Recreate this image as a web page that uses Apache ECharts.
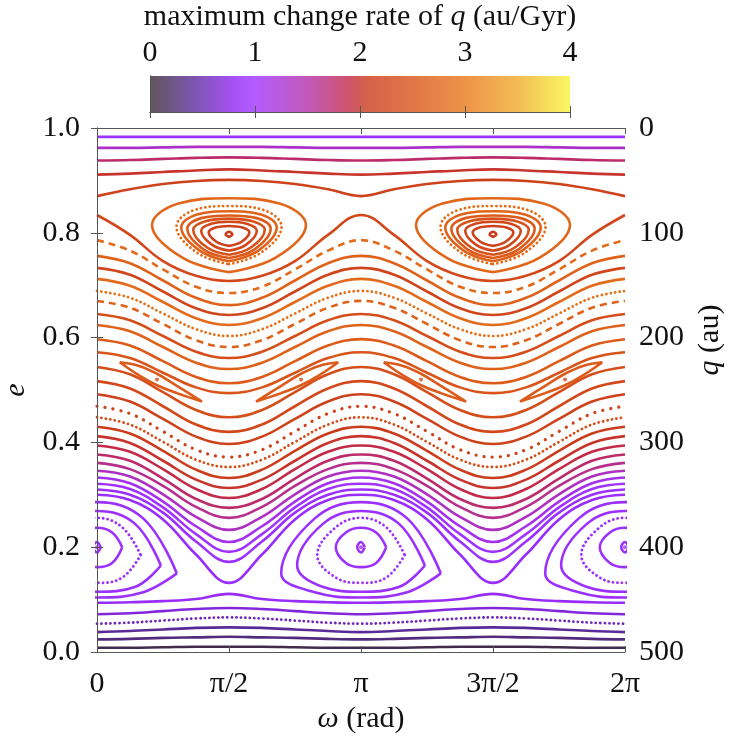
<!DOCTYPE html>
<html>
<head>
<meta charset="utf-8">
<title>maximum change rate of q</title>
<script src="https://cdn.jsdelivr.net/npm/echarts@6/dist/echarts.min.js"></script>
</head>
<body style="margin:0">
<div id="container" style="width:750px;height:750px"></div>
<script>
// ---- tick labels ----
var omegaTickLabels = ['0', 'π/2', 'π', '3π/2', '2π'];
var rateTicks = [0, 1, 2, 3, 4];

// colour bar stops: [rate, colour]
var rateStops = [
    [0.0, '#3a2c34'], [0.4, '#5a2b96'], [0.8, '#8f26f2'], [1.0, '#a033ff'],
    [1.5, '#b22fa6'], [1.9, '#c22a48'], [2.05, '#c9391c'], [2.5, '#d9541a'],
    [3.0, '#e8781a'], [3.5, '#f0aa2a'], [4.0, '#f8f63a']
];

var omegaSamples = [0, 0.3927, 0.7854, 1.1781, 1.5708, 1.9635, 2.3562, 2.7489, 3.1416,
    3.5343, 3.9270, 4.3197, 4.7124, 5.1051, 5.4978, 5.8905, 6.2832];

// open (circulating) curves, e at each omegaSample, from top to bottom
var openCurves = [
    [.983,.983,.983,.983,.983,.983,.983,.983,.983,.983,.983,.983,.983,.983,.983,.983,.983],
    [.962,.962,.963,.964,.964,.964,.963,.962,.962,.962,.963,.964,.964,.964,.963,.962,.962],
    [.938,.939,.941,.943,.944,.943,.941,.939,.938,.939,.941,.943,.944,.943,.941,.939,.938],
    [.911,.913,.916,.919,.921,.919,.916,.913,.911,.913,.916,.919,.921,.919,.916,.913,.911],
    [.870,.883,.893,.899,.901,.899,.893,.883,.870,.883,.893,.899,.901,.899,.893,.883,.870],
    [.834,.796,.746,.718,.708,.718,.746,.796,.834,.796,.746,.718,.708,.718,.746,.796,.834],
    [.786,.766,.730,.697,.685,.697,.730,.766,.786,.766,.730,.697,.685,.697,.730,.766,.786],
    [.756,.742,.709,.676,.662,.676,.709,.742,.756,.742,.709,.676,.662,.676,.709,.742,.756],
    [.733,.720,.688,.656,.643,.656,.688,.720,.733,.720,.688,.656,.643,.656,.688,.720,.733],
    [.712,.699,.668,.637,.624,.637,.668,.699,.712,.699,.668,.637,.624,.637,.668,.699,.712],
    [.689,.676,.646,.616,.603,.616,.646,.676,.689,.676,.646,.616,.603,.616,.646,.676,.689],
    [.670,.657,.626,.595,.582,.595,.626,.657,.670,.657,.626,.595,.582,.595,.626,.657,.670],
    [.645,.633,.603,.573,.561,.573,.603,.633,.645,.633,.603,.573,.561,.573,.603,.633,.645],
    [.624,.612,.582,.552,.540,.552,.582,.612,.624,.612,.582,.552,.540,.552,.582,.612,.624],
    [.597,.585,.555,.525,.513,.525,.555,.585,.597,.585,.555,.525,.513,.525,.555,.585,.597],
    [.572,.561,.533,.505,.494,.505,.533,.561,.572,.561,.533,.505,.494,.505,.533,.561,.572],
    [.544,.530,.496,.462,.448,.462,.496,.530,.544,.530,.496,.462,.448,.462,.496,.530,.544],
    [.517,.503,.469,.434,.420,.434,.469,.503,.517,.503,.469,.434,.420,.434,.469,.503,.517],
    [.492,.478,.445,.411,.397,.411,.445,.478,.492,.478,.445,.411,.397,.411,.445,.478,.492],
    [.469,.455,.421,.386,.372,.386,.421,.455,.469,.455,.421,.386,.372,.386,.421,.455,.469],
    [.448,.434,.401,.367,.353,.367,.401,.434,.448,.434,.401,.367,.353,.367,.401,.434,.448],
    [.430,.417,.384,.348,.332,.348,.384,.417,.430,.417,.384,.348,.332,.348,.384,.417,.430],
    [.412,.399,.365,.329,.313,.329,.365,.399,.412,.399,.365,.329,.313,.329,.365,.399,.412],
    [.394,.382,.349,.311,.294,.311,.349,.382,.394,.382,.349,.311,.294,.311,.349,.382,.394],
    [.377,.365,.331,.292,.275,.292,.331,.365,.377,.365,.331,.292,.275,.292,.331,.365,.377],
    [.361,.349,.317,.277,.256,.277,.317,.349,.361,.349,.317,.277,.256,.277,.317,.349,.361],
    [.346,.335,.301,.258,.233,.258,.301,.335,.346,.335,.301,.258,.233,.258,.301,.335,.346],
    [.333,.322,.287,.240,.210,.240,.287,.322,.333,.322,.287,.240,.210,.240,.287,.322,.333],
    [.321,.311,.276,.225,.191,.225,.276,.311,.321,.311,.276,.225,.191,.225,.276,.311,.321],
    [.310,.300,.266,.211,.172,.211,.266,.300,.310,.300,.266,.211,.172,.211,.266,.300,.310],
    [.300,.290,.253,.186,.132,.186,.253,.290,.300,.290,.253,.186,.132,.186,.253,.290,.300],
    [.094,.095,.097,.101,.111,.101,.097,.095,.094,.095,.097,.101,.111,.101,.097,.095,.094],
    [.072,.074,.078,.082,.084,.082,.078,.074,.072,.074,.078,.082,.084,.082,.078,.074,.072],
    [.054,.056,.060,.064,.066,.064,.060,.056,.054,.056,.060,.064,.066,.064,.060,.056,.054],
    [.038,.040,.043,.046,.047,.046,.043,.040,.038,.040,.043,.046,.047,.046,.043,.040,.038],
    [.024,.025,.027,.028,.029,.028,.027,.025,.024,.025,.027,.028,.029,.028,.027,.025,.024],
    [.008,.008,.009,.010,.010,.010,.009,.008,.008,.008,.009,.010,.010,.010,.009,.008,.008]
];
var openRates = [0.95, 1.3, 1.75, 2.0, 2.2,
    2.3, 2.8, 2.7, 2.25, 2.8, 2.9, 2.7, 2.4, 2.7, 2.6, 2.5,
    2.4, 2.3, 2.2, 2.2, 2.4, 2.1, 2.0, 1.9, 1.75, 1.6, 1.35, 1.1, 1.0, 0.95, 0.92,
    0.9, 0.7, 0.55, 0.4, 0.3, 0.1];
var openStyles = ['s', 's', 's', 's', 's',
    's', 'dash', 's', 's', 's', 'dot', 'dash', 's', 's', 's', 's',
    's', 's', 's', 'dotw', 'dot', 's', 's', 's', 's', 's', 's', 's', 's', 's', 's',
    's', 's', 'dot', 's', 's', 's'];

// islands around omega = pi/2, 3pi/2 (points as [d omega, e])
var upperCentres = [1.5708, 4.7124];
var upperLoops = [
    [[0,.725],[.55,.752],[.916,.815],[.6,.856],[0,.866],[-.6,.856],[-.916,.815],[-.55,.752],[0,.725]],
    [[0,.740],[.38,.762],[.625,.812],[.42,.843],[0,.851],[-.42,.843],[-.625,.812],[-.38,.762],[0,.740]],
    [[0,.746],[.34,.765],[.568,.810],[.38,.835],[0,.841],[-.38,.835],[-.568,.810],[-.34,.765],[0,.746]],
    [[0,.752],[.30,.768],[.496,.808],[.33,.828],[0,.833],[-.33,.828],[-.496,.808],[-.30,.768],[0,.752]],
    [[0,.758],[.26,.772],[.426,.806],[.28,.822],[0,.827],[-.28,.822],[-.426,.806],[-.26,.772],[0,.758]],
    [[0,.766],[.20,.777],[.331,.804],[.22,.817],[0,.821],[-.22,.817],[-.331,.804],[-.20,.777],[0,.766]],
    [[0,.775],[.15,.783],[.242,.801],[.16,.810],[0,.813],[-.16,.810],[-.242,.801],[-.15,.783],[0,.775]],
    [[0,.792],[.04,.797],[0,.802],[-.04,.797],[0,.792]]
];
var upperRates = [2.75, 2.85, 2.7, 2.6, 2.45, 2.3, 2.2, 2.1];
var upperStyles = ['s', 'dot', 's', 's', 's', 's', 's', 's'];

// islands around omega = 0, pi, 2pi
var lowerCentres = [0, 3.1416, 6.2832];
var lowerLoops = [
    [[.95,.150],[.55,.114],[0,.104],[-.55,.114],[-.95,.150],[-.55,.255],[0,.286],[.55,.255],[.95,.150]],
    [[.76,.165],[.45,.124],[0,.115],[-.45,.124],[-.76,.165],[-.45,.245],[0,.269],[.45,.245],[.76,.165]],
    [[.52,.185],[.30,.142],[0,.132],[-.30,.142],[-.52,.185],[-.30,.238],[0,.256],[.30,.238],[.52,.185]],
    [[.30,.200],[.18,.170],[0,.162],[-.18,.170],[-.30,.200],[-.18,.228],[0,.237],[.18,.228],[.30,.200]],
    [[.045,.200],[0,.190],[-.045,.200],[0,.210],[.045,.200]]
];
var lowerRates = [0.95, 0.95, 0.95, 0.95, 0.95];
var lowerStyles = ['s', 's', 'dot', 's', 's'];

// thin islands of the middle chain, repeated every pi
var chainShifts = [0, 3.1416];
var chainLoops = [
    [[0.27,.553],[0.50,.546],[0.714,.531],[0.95,.508],[1.25,.478],[0.95,.494],[0.714,.509],[0.50,.528],[0.27,.553]],
    [[2.872,.553],[2.642,.546],[2.428,.531],[2.192,.508],[1.892,.478],[2.192,.494],[2.428,.509],[2.642,.528],[2.872,.553]]
];
var chainRates = [2.6, 2.6];

// island centre points
var centrePoints = [[0.714,.520],[2.428,.520],[3.856,.520],[5.570,.520],[0,.2],[3.1416,.2],[6.2832,.2]];
var centreRates = [2.4, 2.4, 2.4, 2.4, 0.95, 0.95, 0.95];

var font = "'Liberation Serif', 'DejaVu Serif', serif";
var ink = '#111';
var frame = '#555';

function hexToRgb(h) {
    return [parseInt(h.substr(1, 2), 16), parseInt(h.substr(3, 2), 16), parseInt(h.substr(5, 2), 16)];
}
function rateColour(r) {
    for (var i = 1; i < rateStops.length; i++) {
        if (r <= rateStops[i][0]) {
            var a = rateStops[i - 1], b = rateStops[i];
            var t = (r - a[0]) / (b[0] - a[0]);
            var ca = hexToRgb(a[1]), cb = hexToRgb(b[1]);
            return 'rgb(' + [0, 1, 2].map(function (k) { return Math.round(ca[k] + (cb[k] - ca[k]) * t); }).join(',') + ')';
        }
    }
    return rateStops[rateStops.length - 1][1];
}
function styleFor(rate, kind) {
    var ls = { color: rateColour(rate), width: 2.6 };
    if (kind === 'dash') ls.type = [7, 5];
    if (kind === 'dot') { ls.type = [0.1, 4.4]; ls.cap = 'round'; ls.width = 2.8; }
    if (kind === 'dotw') { ls.type = [0.1, 8]; ls.cap = 'round'; ls.width = 3.2; }
    return ls;
}
function curve(data, ls) {
    return { type: 'line', data: data, smooth: 0.4, showSymbol: false, silent: true, lineStyle: ls, z: 2 };
}

var series = [];
openCurves.forEach(function (row, i) {
    series.push(curve(row.map(function (e, k) { return [omegaSamples[k], e]; }), styleFor(openRates[i], openStyles[i])));
});
upperCentres.forEach(function (c) {
    upperLoops.forEach(function (pts, i) {
        series.push(curve(pts.map(function (p) { return [c + p[0], p[1]]; }), styleFor(upperRates[i], upperStyles[i])));
    });
});
lowerCentres.forEach(function (c) {
    lowerLoops.forEach(function (pts, i) {
        series.push(curve(pts.map(function (p) { return [c + p[0], p[1]]; }), styleFor(lowerRates[i], lowerStyles[i])));
    });
});
chainShifts.forEach(function (s) {
    chainLoops.forEach(function (pts, i) {
        series.push(curve(pts.map(function (p) { return [s + p[0], p[1]]; }), styleFor(chainRates[i], 's')));
    });
});
series.push({
    type: 'scatter', symbolSize: 4, silent: true, z: 3,
    data: centrePoints.map(function (p, i) { return { value: p, itemStyle: { color: rateColour(centreRates[i]) } }; })
});

// colour bar drawn as one rectangle spanning rate 0..4
var barStops = rateStops.map(function (s) { return { offset: s[0] / 4, color: s[1] }; });
series.push({
    type: 'custom', xAxisIndex: 2, yAxisIndex: 2, silent: true, z: 1,
    data: [[rateTicks[0], rateTicks[rateTicks.length - 1]]],
    renderItem: function (params, api) {
        var p0 = api.coord([api.value(0), 0]);
        var p1 = api.coord([api.value(1), 1]);
        return {
            type: 'rect',
            shape: { x: p0[0], y: p1[1], width: p1[0] - p0[0], height: p0[1] - p1[1] },
            style: { fill: new echarts.graphic.LinearGradient(0, 0, 1, 0, barStops), opacity: 0.8 }
        };
    }
});

var lineSt = { lineStyle: { color: frame, width: 1 } };
var labelSt = { fontSize: 30, fontFamily: font, color: ink };
function nameStyle(extra) {
    return Object.assign({
        fontSize: 30, fontFamily: font, color: ink,
        rich: { i: { fontStyle: 'italic', fontSize: 30, fontFamily: font, color: ink } }
    }, extra || {});
}

var option = {
    animation: false,
    grid: [
        { left: 97, top: 128, width: 528, height: 524, outerBoundsMode: 'none' },
        { left: 150, top: 76, width: 420, height: 36, outerBoundsMode: 'none' }
    ],
    xAxis: [
        {
            gridIndex: 0, type: 'value', position: 'bottom', min: 0, max: 2 * Math.PI, interval: Math.PI / 2, z: 5,
            axisLine: lineSt, axisTick: { inside: true, length: 6, lineStyle: { color: frame } }, splitLine: { show: false },
            axisLabel: Object.assign({ margin: 17, formatter: function (v) { return omegaTickLabels[Math.round(v / (Math.PI / 2))]; } }, labelSt),
            name: '{i|ω} (rad)', nameLocation: 'middle', nameGap: 52, nameTextStyle: nameStyle()
        },
        {
            gridIndex: 0, type: 'value', position: 'top', min: 0, max: 2 * Math.PI, interval: Math.PI / 2, z: 5,
            axisLine: lineSt, axisTick: { inside: true, length: 6, lineStyle: { color: frame } }, splitLine: { show: false },
            axisLabel: { show: false }
        },
        {
            gridIndex: 1, type: 'value', position: 'top', min: 0, max: 4, interval: 1, z: 5,
            axisLine: lineSt, axisTick: { inside: true, length: 6, lineStyle: { color: frame } }, splitLine: { show: false },
            axisLabel: Object.assign({ margin: 8 }, labelSt),
            name: 'maximum change rate of {i|q} (au/Gyr)', nameLocation: 'middle', nameGap: 44, nameTextStyle: nameStyle()
        },
        {
            gridIndex: 1, type: 'value', position: 'bottom', min: 0, max: 4, interval: 1, z: 5,
            axisLine: lineSt, axisTick: { inside: true, length: 6, lineStyle: { color: frame } }, splitLine: { show: false },
            axisLabel: { show: false }
        }
    ],
    yAxis: [
        {
            gridIndex: 0, type: 'value', position: 'left', min: 0, max: 1, interval: 0.2, z: 5,
            axisLine: lineSt, axisTick: { inside: true, length: 6, lineStyle: { color: frame } }, splitLine: { show: false },
            axisLabel: Object.assign({ margin: 17, formatter: function (v) { return v.toFixed(1); } }, labelSt),
            name: '{i|e}', nameLocation: 'middle', nameGap: 54, nameTextStyle: nameStyle()
        },
        {
            gridIndex: 0, type: 'value', position: 'right', min: 0, max: 500, interval: 100, inverse: true, z: 5,
            axisLine: lineSt, axisTick: { inside: true, length: 6, lineStyle: { color: frame } }, splitLine: { show: false },
            axisLabel: Object.assign({ margin: 14 }, labelSt),
            name: '{i|q} (au)', nameLocation: 'middle', nameRotate: 90, nameGap: 66,
            nameTextStyle: nameStyle({ padding: [0, 0, 0, 100] })
        },
        {
            gridIndex: 1, type: 'value', position: 'left', min: 0, max: 1, z: 5,
            axisLine: lineSt, axisTick: { show: false }, axisLabel: { show: false }, splitLine: { show: false }
        },
        {
            gridIndex: 1, type: 'value', position: 'right', min: 0, max: 1, z: 5,
            axisLine: lineSt, axisTick: { show: false }, axisLabel: { show: false }, splitLine: { show: false }
        }
    ],
    series: series
};

var myChart = echarts.init(document.getElementById('container'));
myChart.setOption(option);
</script>
</body>
</html>
